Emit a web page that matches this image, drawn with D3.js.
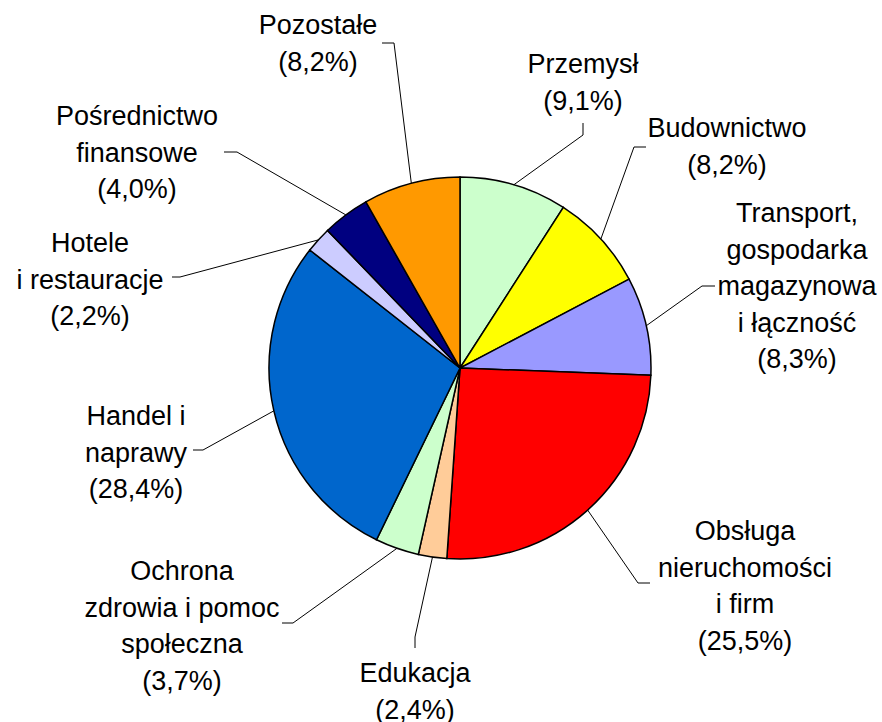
<!DOCTYPE html>
<html lang="pl">
<head>
<meta charset="UTF-8">
<title>Struktura</title>
<script src="https://d3js.org/d3.v7.min.js"></script>
<style>
  body { margin: 0; background: #fff; }
  .label { font-family: "Liberation Sans", Arial, sans-serif; font-size: 27px; fill: #000; }
  .slice { stroke: #000; stroke-width: 1.5px; }
  .leader { fill: none; stroke: #000; stroke-width: 1px; }
</style>
</head>
<body>
<script>
  // Sector names (multi-line) and their shares, clockwise from 12 o'clock
  var sectors = [
    ["Przemysł"],
    ["Budownictwo"],
    ["Transport,", "gospodarka", "magazynowa", "i łączność"],
    ["Obsługa", "nieruchomości", "i firm"],
    ["Edukacja"],
    ["Ochrona", "zdrowia i pomoc", "społeczna"],
    ["Handel i", "naprawy"],
    ["Hotele", "i restauracje"],
    ["Pośrednictwo", "finansowe"],
    ["Pozostałe"]
  ];
  var shares = [9.1, 8.2, 8.3, 25.5, 2.4, 3.7, 28.4, 2.2, 4.0, 8.2];
  var colors = ["#ccffcc", "#ffff00", "#9999ff", "#ff0000", "#ffcc99",
                "#ccffcc", "#0066cc", "#ccccff", "#000080", "#ff9900"];

  // Label placement: text centre + first baseline, and leader elbow points
  var labelPos = [
    {x: 583, y: 73,  elbow: [[583, 135], [583, 123]]},
    {x: 727, y: 137, elbow: [[634, 147], [646, 147]]},
    {x: 797, y: 222, elbow: [[702, 286], [715, 286]]},
    {x: 745, y: 540, elbow: [[638, 583], [650, 583]]},
    {x: 415, y: 682, elbow: [[415, 637], [415, 648]]},
    {x: 182, y: 580, elbow: [[293, 623], [282, 623]]},
    {x: 136, y: 425, elbow: [[203, 450], [193, 450]]},
    {x: 90,  y: 252, elbow: [[180, 277], [172, 277]]},
    {x: 137, y: 125, elbow: [[237, 152], [224, 152]]},
    {x: 318, y: 34,  elbow: [[394, 43], [382, 43]]}
  ];

  var width = 882, height = 722;
  var cx = 460, cy = 368, radius = 191;
  var lineH = 36.5;

  var svg = d3.select("body").append("svg")
      .attr("width", width)
      .attr("height", height);

  var g = svg.append("g")
      .attr("transform", "translate(" + cx + "," + cy + ")");

  var pie = d3.pie().sort(null).value(d => d);
  var arcs = pie(shares);

  var arc = d3.arc().innerRadius(0).outerRadius(radius);
  var edge = d3.arc().innerRadius(radius).outerRadius(radius);

  g.selectAll("path.slice")
    .data(arcs)
    .enter().append("path")
      .attr("class", "slice")
      .attr("fill", (d, i) => colors[i])
      .attr("d", arc);

  // leader lines
  var line = d3.line();
  svg.selectAll("path.leader")
    .data(arcs)
    .enter().append("path")
      .attr("class", "leader")
      .attr("d", (d, i) => {
        var c = edge.centroid(d);
        var pts = [[c[0] + cx, c[1] + cy]].concat(labelPos[i].elbow);
        return line(pts);
      });

  // labels
  var fmt = v => "(" + v.toFixed(1).replace(".", ",") + "%)";
  sectors.forEach((lines, i) => {
    var t = svg.append("text")
        .attr("class", "label")
        .attr("text-anchor", "middle");
    lines.concat([fmt(shares[i])]).forEach((s, j) => {
      t.append("tspan")
        .attr("x", labelPos[i].x)
        .attr("y", labelPos[i].y + j * lineH)
        .text(s);
    });
  });
</script>
</body>
</html>
